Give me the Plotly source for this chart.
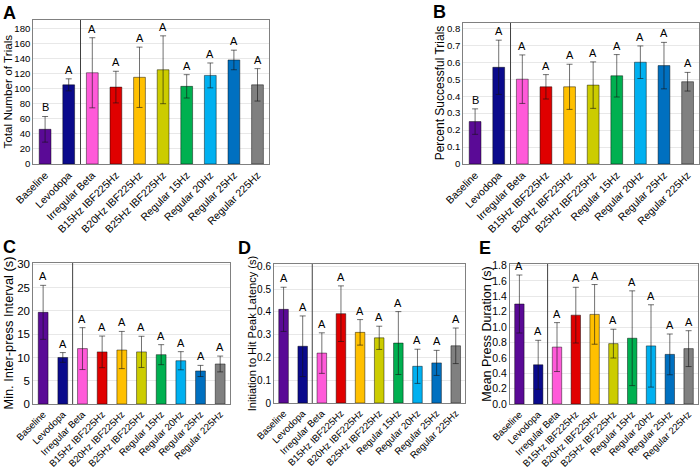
import plotly.graph_objects as go

categories = ["Baseline", "Levodopa", "Irregular Beta", "B15Hz IBF225Hz", "B20Hz IBF225Hz",
              "B25Hz IBF225Hz", "Regular 15Hz", "Regular 20Hz", "Regular 25Hz", "Regular 225Hz"]
bar_colors = ["#5A0A96", "#0A0A8C", "#FF5AD9", "#E00000", "#FFC000",
              "#CCCC00", "#00B050", "#00B0F0", "#0070C0", "#808080"]

trials_mean = [46, 105, 121, 102, 115, 125, 103, 117.5, 138, 105]
trials_sem = [17, 8, 46.5, 21, 40, 45, 15.5, 16.5, 13, 21.5]
trials_letters = ["B", "A", "A", "A", "A", "A", "A", "A", "A", "A"]

success_mean = [0.25, 0.57, 0.50, 0.455, 0.455, 0.465, 0.52, 0.60, 0.58, 0.485]
success_sem = [0.075, 0.16, 0.143, 0.072, 0.133, 0.137, 0.125, 0.096, 0.137, 0.055]
success_letters = ["B", "A", "A", "A", "A", "A", "A", "A", "A", "A"]

ipi_mean = [19.7, 10.0, 11.9, 11.2, 11.6, 11.2, 10.6, 9.3, 7.1, 8.6]
ipi_sem = [5.8, 1.05, 4.5, 3.4, 4.0, 3.35, 2.15, 1.95, 1.2, 1.7]
ipi_letters = ["A"] * 10

lat_mean = [0.411, 0.249, 0.219, 0.392, 0.31, 0.286, 0.263, 0.161, 0.176, 0.251]
lat_sem = [0.097, 0.133, 0.089, 0.122, 0.056, 0.051, 0.138, 0.075, 0.055, 0.078]
lat_letters = ["A"] * 10

dur_mean = [1.30, 0.51, 0.74, 1.155, 1.165, 0.785, 0.855, 0.755, 0.645, 0.72]
dur_sem = [0.377, 0.318, 0.318, 0.362, 0.388, 0.187, 0.616, 0.535, 0.265, 0.233]
dur_letters = ["A"] * 10

FONT = "Liberation Sans, Arial, sans-serif"
W, H = 700, 468


def px_x(v):
    return v / W


def px_y(v):
    return 1 - v / H


panels = [
    # plot box in pixels: left, right, top, bottom
    dict(ax="", mean=trials_mean, sem=trials_sem, letters=trials_letters,
         title="Total Number of Trials", yr=[0, 191], dtick=20, fmt="d",
         box=(33.3, 269.3, 20, 164), lab="A", lab_xy=(1, 12.5), title_x=7.5,
         tf=9.6, xf=10.5, titf=11.7),
    dict(ax="2", mean=success_mean, sem=success_sem, letters=success_letters,
         title="Percent Successful Trials", yr=[0, 0.833], dtick=0.1, fmt="",
         box=(463.3, 699.4, 22.7, 164), lab="B", lab_xy=(431, 11.7), title_x=440,
         tf=9.6, xf=10.5, titf=12),
    dict(ax="3", mean=ipi_mean, sem=ipi_sem, letters=ipi_letters,
         title="Min. Inter-press Interval (s)", yr=[0, 30.3], dtick=5, fmt="d",
         box=(33.3, 230, 263, 404), lab="C", lab_xy=(1, 246.7), title_x=8,
         tf=11.5, xf=9.6, titf=12.8),
    dict(ax="4", mean=lat_mean, sem=lat_sem, letters=lat_letters,
         title="Initiation to Hit Peak Latency (s)", yr=[0, 0.61], dtick=0.1, fmt="",
         box=(274, 465.3, 264, 403), lab="D", lab_xy=(236, 247.5), title_x=251.7,
         tf=10, xf=9.6, titf=11),
    dict(ax="5", mean=dur_mean, sem=dur_sem, letters=dur_letters,
         title="Mean Press Duration (s)", yr=[0, 1.82], dtick=0.2, fmt=".1f",
         box=(510, 698, 264, 404), lab="E", lab_xy=(477, 247.5), title_x=486.7,
         tf=10.5, xf=9.6, titf=12.5),
]

fig = go.Figure()
annotations = []
shapes = []
layout = {}

for p in panels:
    xa = "x" + p["ax"]
    ya = "y" + p["ax"]
    l, r, t, b = p["box"]
    fig.add_trace(go.Bar(
        x=categories, y=p["mean"], xaxis=xa, yaxis=ya,
        marker=dict(color=bar_colors, line=dict(color="rgba(0,0,0,0.45)", width=1)),
        width=0.5,
        error_y=dict(type="data", array=p["sem"], visible=True,
                     color="rgba(20,20,20,0.6)", thickness=1, width=3),
        showlegend=False,
    ))
    layout["xaxis" + p["ax"]] = dict(
        domain=[px_x(l), px_x(r)], anchor=ya, type="category", tickangle=-45, automargin=False,
        tickfont=dict(size=p["xf"], family=FONT, color="black"),
        showline=True, linecolor="#808080", mirror=True, linewidth=1,
        showgrid=False, ticks="", range=[-0.5, 9.5],
    )
    layout["yaxis" + p["ax"]] = dict(
        domain=[px_y(b), px_y(t)], anchor=xa, range=p["yr"], dtick=p["dtick"], automargin=False,
        tickformat=p["fmt"],
        tickfont=dict(size=p["tf"], family=FONT, color="black"),
        showline=True, linecolor="#808080", mirror=True, linewidth=1,
        showgrid=True, gridcolor="#e8e8e8", gridwidth=1, ticks="", zeroline=False,
    )
    shapes.append(dict(type="line", xref=xa, yref=ya, x0=1.5, x1=1.5,
                       y0=0, y1=p["yr"][1], line=dict(color="#404040", width=1)))
    for c, m, s, L in zip(categories, p["mean"], p["sem"], p["letters"]):
        annotations.append(dict(x=c, y=m + s, xref=xa, yref=ya, text=L, showarrow=False,
                                yanchor="bottom", yshift=1,
                                font=dict(size=11, family=FONT, color="black")))
    annotations.append(dict(x=px_x(p["title_x"]), y=px_y((t + b) / 2), xref="paper", yref="paper",
                            text=p["title"], textangle=-90, showarrow=False,
                            xanchor="center", yanchor="middle",
                            font=dict(size=p["titf"], family=FONT, color="black")))
    lx, ly = p["lab_xy"]
    annotations.append(dict(x=px_x(lx), y=px_y(ly), xref="paper", yref="paper",
                            text="<b>" + p["lab"] + "</b>",
                            showarrow=False, xanchor="left", yanchor="middle",
                            font=dict(size=18, family=FONT, color="black")))

fig.update_layout(
    width=W, height=H, margin=dict(l=0, r=0, t=0, b=0, pad=0, autoexpand=False),
    paper_bgcolor="white", plot_bgcolor="white",
    font=dict(family=FONT, color="black"),
    annotations=annotations, shapes=shapes, bargap=0.5,
    **layout,
)

fig.write_html("out.html", config={"displayModeBar": False},
               post_script="document.body.style.margin='0px';")
